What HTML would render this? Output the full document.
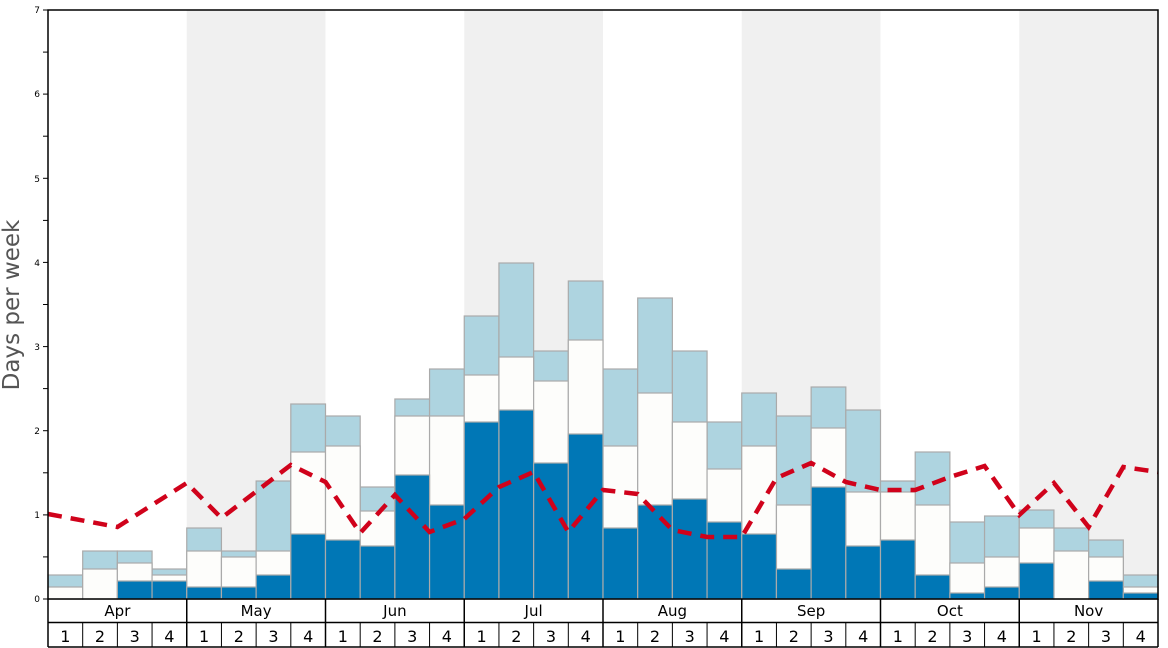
<!DOCTYPE html>
<html><head><meta charset="utf-8"><style>
html,body{margin:0;padding:0;background:#fff;}
svg{display:block;font-family:"DejaVu Sans","Liberation Sans",sans-serif;}
</style></head><body>
<svg width="1168" height="648" viewBox="0 0 1168 648">
<!-- shading -->
<g fill="#f0f0f0">
<rect x="186.75" y="10" width="138.75" height="589"/>
<rect x="464.25" y="10" width="138.75" height="589"/>
<rect x="741.75" y="10" width="138.75" height="589"/>
<rect x="1019.25" y="10" width="138.75" height="589"/>
</g>
<g stroke="#aaa" stroke-width="1.2">
<!-- light blue tops -->
<g fill="#aed4e0">
<rect x="48" y="575" width="34.69" height="24"/>
<rect x="82.69" y="551" width="34.69" height="48"/>
<rect x="117.38" y="551" width="34.69" height="48"/>
<rect x="152.06" y="569" width="34.69" height="30"/>
<rect x="186.75" y="528" width="34.69" height="71"/>
<rect x="221.44" y="551" width="34.69" height="48"/>
<rect x="256.13" y="481" width="34.69" height="118"/>
<rect x="290.81" y="404" width="34.69" height="195"/>
<rect x="325.5" y="416" width="34.69" height="183"/>
<rect x="360.19" y="487" width="34.69" height="112"/>
<rect x="394.88" y="399" width="34.69" height="200"/>
<rect x="429.56" y="369" width="34.69" height="230"/>
<rect x="464.25" y="316" width="34.69" height="283"/>
<rect x="498.94" y="263" width="34.69" height="336"/>
<rect x="533.63" y="351" width="34.69" height="248"/>
<rect x="568.31" y="281" width="34.69" height="318"/>
<rect x="603" y="369" width="34.69" height="230"/>
<rect x="637.69" y="298" width="34.69" height="301"/>
<rect x="672.38" y="351" width="34.69" height="248"/>
<rect x="707.06" y="422" width="34.69" height="177"/>
<rect x="741.75" y="393" width="34.69" height="206"/>
<rect x="776.44" y="416" width="34.69" height="183"/>
<rect x="811.13" y="387" width="34.69" height="212"/>
<rect x="845.81" y="410" width="34.69" height="189"/>
<rect x="880.5" y="481" width="34.69" height="118"/>
<rect x="915.19" y="452" width="34.69" height="147"/>
<rect x="949.88" y="522" width="34.69" height="77"/>
<rect x="984.56" y="516" width="34.69" height="83"/>
<rect x="1019.25" y="510" width="34.69" height="89"/>
<rect x="1053.94" y="528" width="34.69" height="71"/>
<rect x="1088.63" y="540" width="34.69" height="59"/>
<rect x="1123.31" y="575" width="34.69" height="24"/>
</g>
<g fill="#fdfdfb">
<rect x="48" y="587" width="34.69" height="12"/>
<rect x="82.69" y="569" width="34.69" height="30"/>
<rect x="117.38" y="563" width="34.69" height="36"/>
<rect x="152.06" y="575" width="34.69" height="24"/>
<rect x="186.75" y="551" width="34.69" height="48"/>
<rect x="221.44" y="557" width="34.69" height="42"/>
<rect x="256.13" y="551" width="34.69" height="48"/>
<rect x="290.81" y="452" width="34.69" height="147"/>
<rect x="325.5" y="446" width="34.69" height="153"/>
<rect x="360.19" y="511" width="34.69" height="88"/>
<rect x="394.88" y="416" width="34.69" height="183"/>
<rect x="429.56" y="416" width="34.69" height="183"/>
<rect x="464.25" y="375" width="34.69" height="224"/>
<rect x="498.94" y="357" width="34.69" height="242"/>
<rect x="533.63" y="381" width="34.69" height="218"/>
<rect x="568.31" y="340" width="34.69" height="259"/>
<rect x="603" y="446" width="34.69" height="153"/>
<rect x="637.69" y="393" width="34.69" height="206"/>
<rect x="672.38" y="422" width="34.69" height="177"/>
<rect x="707.06" y="469" width="34.69" height="130"/>
<rect x="741.75" y="446" width="34.69" height="153"/>
<rect x="776.44" y="505" width="34.69" height="94"/>
<rect x="811.13" y="428" width="34.69" height="171"/>
<rect x="845.81" y="492" width="34.69" height="107"/>
<rect x="880.5" y="492" width="34.69" height="107"/>
<rect x="915.19" y="505" width="34.69" height="94"/>
<rect x="949.88" y="563" width="34.69" height="36"/>
<rect x="984.56" y="557" width="34.69" height="42"/>
<rect x="1019.25" y="528" width="34.69" height="71"/>
<rect x="1053.94" y="551" width="34.69" height="48"/>
<rect x="1088.63" y="557" width="34.69" height="42"/>
<rect x="1123.31" y="587" width="34.69" height="12"/>
</g>
<g fill="#0077b6">
<rect x="117.38" y="581" width="34.69" height="18"/>
<rect x="152.06" y="581" width="34.69" height="18"/>
<rect x="186.75" y="587" width="34.69" height="12"/>
<rect x="221.44" y="587" width="34.69" height="12"/>
<rect x="256.13" y="575" width="34.69" height="24"/>
<rect x="290.81" y="534" width="34.69" height="65"/>
<rect x="325.5" y="540" width="34.69" height="59"/>
<rect x="360.19" y="546" width="34.69" height="53"/>
<rect x="394.88" y="475" width="34.69" height="124"/>
<rect x="429.56" y="505" width="34.69" height="94"/>
<rect x="464.25" y="422" width="34.69" height="177"/>
<rect x="498.94" y="410" width="34.69" height="189"/>
<rect x="533.63" y="463" width="34.69" height="136"/>
<rect x="568.31" y="434" width="34.69" height="165"/>
<rect x="603" y="528" width="34.69" height="71"/>
<rect x="637.69" y="505" width="34.69" height="94"/>
<rect x="672.38" y="499" width="34.69" height="100"/>
<rect x="707.06" y="522" width="34.69" height="77"/>
<rect x="741.75" y="534" width="34.69" height="65"/>
<rect x="776.44" y="569" width="34.69" height="30"/>
<rect x="811.13" y="487" width="34.69" height="112"/>
<rect x="845.81" y="546" width="34.69" height="53"/>
<rect x="880.5" y="540" width="34.69" height="59"/>
<rect x="915.19" y="575" width="34.69" height="24"/>
<rect x="949.88" y="593" width="34.69" height="6"/>
<rect x="984.56" y="587" width="34.69" height="12"/>
<rect x="1019.25" y="563" width="34.69" height="36"/>
<rect x="1088.63" y="581" width="34.69" height="18"/>
<rect x="1123.31" y="593" width="34.69" height="6"/>
</g>
</g>
<!-- red dashed line -->
<polyline fill="none" stroke="#d0021b" stroke-width="4.5" stroke-dasharray="14,9"
points="48,514 117.38,527 186.75,483 221.44,518 290.81,465 325.5,482 360.19,533 394.88,495 429.56,532 464.25,519 498.94,487 533.63,472 568.31,532 603,490 637.69,494 672.38,530 707.06,537 741.75,537 776.44,478 811.13,463 845.81,482 880.5,490 915.19,490 949.88,477 984.56,466 1019.25,515 1053.94,483 1088.63,527 1123.31,467 1158,472"/>
<!-- frame -->
<rect x="48" y="10" width="1110" height="589" fill="none" stroke="#000" stroke-width="1.5"/>
<!-- y ticks -->
<g stroke="#000" stroke-width="1">
<line x1="43" y1="599" x2="48" y2="599"/><line x1="43" y1="556.9" x2="48" y2="556.9"/>
<line x1="43" y1="514.9" x2="48" y2="514.9"/><line x1="43" y1="472.8" x2="48" y2="472.8"/>
<line x1="43" y1="430.7" x2="48" y2="430.7"/><line x1="43" y1="388.6" x2="48" y2="388.6"/>
<line x1="43" y1="346.6" x2="48" y2="346.6"/><line x1="43" y1="304.5" x2="48" y2="304.5"/>
<line x1="43" y1="262.4" x2="48" y2="262.4"/><line x1="43" y1="220.4" x2="48" y2="220.4"/>
<line x1="43" y1="178.3" x2="48" y2="178.3"/><line x1="43" y1="136.2" x2="48" y2="136.2"/>
<line x1="43" y1="94.1" x2="48" y2="94.1"/><line x1="43" y1="52.1" x2="48" y2="52.1"/>
<line x1="43" y1="10" x2="48" y2="10"/>
</g>
<g font-size="9" text-anchor="end" fill="#000">
<text x="40" y="602">0</text><text x="40" y="518">1</text><text x="40" y="434">2</text>
<text x="40" y="350">3</text><text x="40" y="266">4</text><text x="40" y="182">5</text>
<text x="40" y="97">6</text><text x="40" y="13">7</text>
</g>
<text transform="translate(19,305) rotate(-90)" text-anchor="middle" font-size="23" fill="#555">Days per week</text>
<!-- x axis table -->
<g stroke="#000" stroke-width="1.5" fill="none">
<line x1="48" y1="599" x2="48" y2="647"/><line x1="1158" y1="599" x2="1158" y2="647"/>
<line x1="48" y1="622.5" x2="1158" y2="622.5"/><line x1="48" y1="647" x2="1158" y2="647"/>
<line x1="186.75" y1="599" x2="186.75" y2="647"/><line x1="325.5" y1="599" x2="325.5" y2="647"/>
<line x1="464.25" y1="599" x2="464.25" y2="647"/><line x1="603" y1="599" x2="603" y2="647"/>
<line x1="741.75" y1="599" x2="741.75" y2="647"/><line x1="880.5" y1="599" x2="880.5" y2="647"/>
<line x1="1019.25" y1="599" x2="1019.25" y2="647"/>
</g>
<g stroke="#000" stroke-width="1">
<line x1="82.69" y1="622" x2="82.69" y2="647"/><line x1="117.38" y1="622" x2="117.38" y2="647"/><line x1="152.06" y1="622" x2="152.06" y2="647"/>
<line x1="221.44" y1="622" x2="221.44" y2="647"/><line x1="256.13" y1="622" x2="256.13" y2="647"/><line x1="290.81" y1="622" x2="290.81" y2="647"/>
<line x1="360.19" y1="622" x2="360.19" y2="647"/><line x1="394.88" y1="622" x2="394.88" y2="647"/><line x1="429.56" y1="622" x2="429.56" y2="647"/>
<line x1="498.94" y1="622" x2="498.94" y2="647"/><line x1="533.63" y1="622" x2="533.63" y2="647"/><line x1="568.31" y1="622" x2="568.31" y2="647"/>
<line x1="637.69" y1="622" x2="637.69" y2="647"/><line x1="672.38" y1="622" x2="672.38" y2="647"/><line x1="707.06" y1="622" x2="707.06" y2="647"/>
<line x1="776.44" y1="622" x2="776.44" y2="647"/><line x1="811.13" y1="622" x2="811.13" y2="647"/><line x1="845.81" y1="622" x2="845.81" y2="647"/>
<line x1="915.19" y1="622" x2="915.19" y2="647"/><line x1="949.88" y1="622" x2="949.88" y2="647"/><line x1="984.56" y1="622" x2="984.56" y2="647"/>
<line x1="1053.94" y1="622" x2="1053.94" y2="647"/><line x1="1088.63" y1="622" x2="1088.63" y2="647"/><line x1="1123.31" y1="622" x2="1123.31" y2="647"/>
</g>
<g font-size="15" text-anchor="middle" fill="#000">
<text x="117.4" y="616">Apr</text><text x="256.1" y="616">May</text><text x="394.9" y="616">Jun</text><text x="533.6" y="616">Jul</text>
<text x="672.4" y="616">Aug</text><text x="811.1" y="616">Sep</text><text x="949.9" y="616">Oct</text><text x="1088.6" y="616">Nov</text>
</g>
<g font-size="16" text-anchor="middle" fill="#000">
<text x="65.3" y="642">1</text><text x="100" y="642">2</text><text x="134.7" y="642">3</text><text x="169.4" y="642">4</text>
<text x="204.1" y="642">1</text><text x="238.8" y="642">2</text><text x="273.5" y="642">3</text><text x="308.2" y="642">4</text>
<text x="342.8" y="642">1</text><text x="377.5" y="642">2</text><text x="412.2" y="642">3</text><text x="446.9" y="642">4</text>
<text x="481.6" y="642">1</text><text x="516.3" y="642">2</text><text x="551" y="642">3</text><text x="585.7" y="642">4</text>
<text x="620.3" y="642">1</text><text x="655" y="642">2</text><text x="689.7" y="642">3</text><text x="724.4" y="642">4</text>
<text x="759.1" y="642">1</text><text x="793.8" y="642">2</text><text x="828.5" y="642">3</text><text x="863.2" y="642">4</text>
<text x="897.8" y="642">1</text><text x="932.5" y="642">2</text><text x="967.2" y="642">3</text><text x="1001.9" y="642">4</text>
<text x="1036.6" y="642">1</text><text x="1071.3" y="642">2</text><text x="1106" y="642">3</text><text x="1140.7" y="642">4</text>
</g>
</svg>
</body></html>
